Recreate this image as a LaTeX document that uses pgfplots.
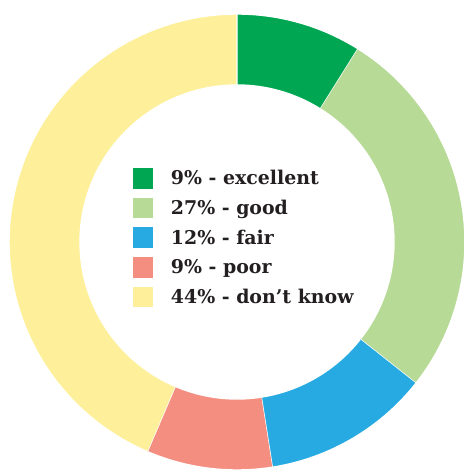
\documentclass[border=0pt]{standalone}
\usepackage{pgfplots}
\pgfplotsset{compat=1.18}
\usepackage{fontspec}
\setmainfont{DejaVu Serif}
\definecolor{cExc}{HTML}{00A651}
\definecolor{cGood}{HTML}{B7DA96}
\definecolor{cFair}{HTML}{27AAE1}
\definecolor{cPoor}{HTML}{F48E80}
\definecolor{cDK}{HTML}{FEF09A}
\definecolor{txt}{HTML}{231F20}
% Ring geometry (in picture units): centre, outer and inner radius
\def\cx{237}\def\cy{229}\def\Ro{228}\def\Ri{157}\def\Tot{101}
% #1 = cumulative share before this slice, #2 = share of this slice, #3 = colour
\newcommand{\slice}[3]{%
  \addplot[fill=#3, draw=white, line width=1.4bp, domain=0:3, samples=241, variable=\t]
  ({\cx+(\Ro-(\Ro-\Ri)*min(max(\t-1,0),1))*cos(90-360*(#1+#2*min(\t,1,3-\t))/\Tot)},
   {\cy+(\Ro-(\Ro-\Ri)*min(max(\t-1,0),1))*sin(90-360*(#1+#2*min(\t,1,3-\t))/\Tot)});
}
\begin{document}
\begin{tikzpicture}
\begin{axis}[
  scale only axis, width=464bp, height=471bp,
  xmin=0, xmax=464, ymin=0, ymax=471,
  hide axis,
  legend cell align=left,
  legend image code/.code={\path[#1, draw=none] (0bp,-10.3bp) rectangle (20.5bp,10.3bp); \path (20.5bp,0) -- (37.5bp,0);},
  legend style={at={(axis cs:132.5,471-168)}, anchor=north west, draw=none, fill=none,
    inner sep=0pt, row sep=9bp, text=txt,
    font=\fontsize{19}{21}\selectfont\bfseries,
    nodes={inner sep=0pt, anchor=west}},
]
\slice{0}{9}{cExc}
\addlegendentry{9\% - excellent}
\slice{9}{27}{cGood}
\addlegendentry{27\% - good}
\slice{36}{12}{cFair}
\addlegendentry{12\% - fair}
\slice{48}{9}{cPoor}
\addlegendentry{9\% - poor}
\slice{57}{44}{cDK}
\addlegendentry{44\% - don\char"0027 t know}
\end{axis}
\useasboundingbox (current axis.south west) rectangle (current axis.north east);
\end{tikzpicture}
\end{document}
